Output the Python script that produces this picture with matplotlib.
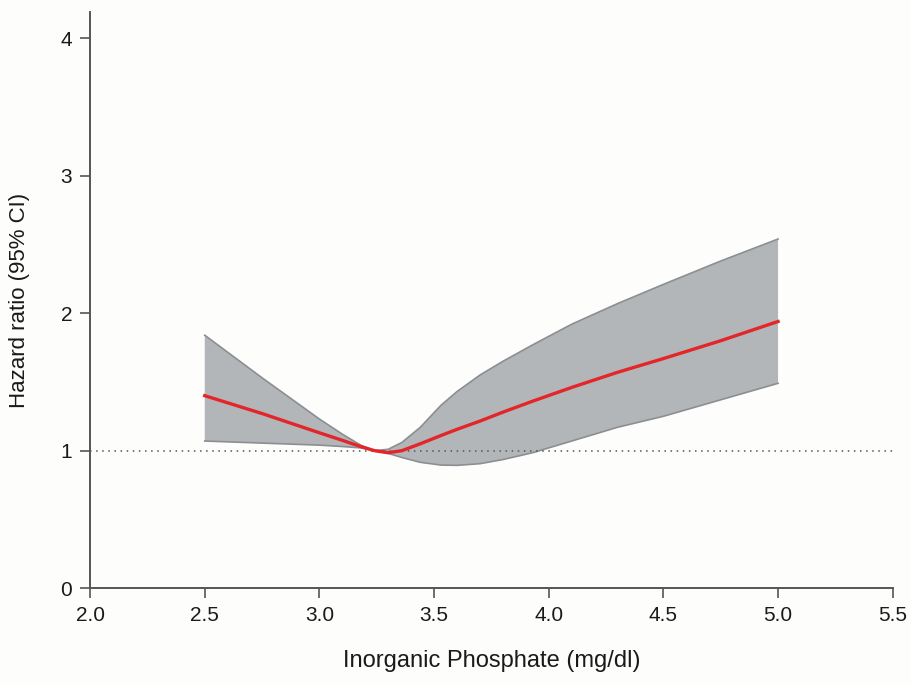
import matplotlib
matplotlib.use("Agg")
import matplotlib.pyplot as plt

# spline estimate
phosphate = [2.5, 2.75, 3.0, 3.1, 3.18, 3.24, 3.3, 3.36, 3.44, 3.53, 3.6, 3.7, 3.8,
             3.93, 4.1, 4.3, 4.5, 4.75, 5.0]
hr = [1.40, 1.27, 1.13, 1.075, 1.03, 1.0, 0.985, 1.0, 1.05, 1.11, 1.155, 1.215, 1.28,
      1.36, 1.46, 1.57, 1.67, 1.80, 1.94]
ci_upper = [1.84, 1.53, 1.23, 1.12, 1.04, 1.0, 1.01, 1.06, 1.17, 1.33, 1.43, 1.55, 1.65,
            1.77, 1.92, 2.07, 2.21, 2.38, 2.54]
ci_lower = [1.07, 1.055, 1.04, 1.03, 1.02, 1.0, 0.98, 0.95, 0.915, 0.895, 0.893, 0.905, 0.935,
            0.985, 1.07, 1.17, 1.25, 1.37, 1.49]

xticks = [2.0, 2.5, 3.0, 3.5, 4.0, 4.5, 5.0, 5.5]
yticks = [0, 1, 2, 3, 4]

plt.rcParams['font.family'] = ['Liberation Sans', 'DejaVu Sans']

fig = plt.figure(figsize=(9.1, 6.83), dpi=100, facecolor='#fdfdfb')
ax = fig.add_axes([0.099, 0.139, 0.882, 0.843], facecolor='#fdfdfb')

ax.fill_between(phosphate, ci_lower, ci_upper, facecolor='#b3b6b9',
                edgecolor='none', zorder=2)
ax.plot(phosphate, ci_upper, color='#8c8f92', lw=1.2, solid_joinstyle='round', zorder=2)
ax.plot(phosphate, ci_lower, color='#8c8f92', lw=1.2, solid_joinstyle='round', zorder=2)
ax.plot(phosphate, hr, color='#e2262a', linewidth=2.4, solid_joinstyle='round', zorder=4)
ax.axhline(1, color='#555555', linestyle=(0, (1, 3)), linewidth=1.1, zorder=3)

ax.set_xlim(2.0, 5.5)
ax.set_ylim(0, 4.19)
ax.set_xticks(xticks)
ax.set_xticklabels([f"{t:.1f}" for t in xticks])
ax.set_yticks(yticks)

for s in ['top', 'right']:
    ax.spines[s].set_visible(False)
for s in ['left', 'bottom']:
    ax.spines[s].set_color('#555555')
    ax.spines[s].set_linewidth(1.4)

ax.tick_params(axis='both', colors='#555555', width=1.2, length=7, labelsize=15,
               labelcolor='#1a1a1a', pad=6)

ax.set_xlabel("Inorganic Phosphate (mg/dl)", fontsize=17, color='#1a1a1a', labelpad=18)
ax.set_ylabel("Hazard ratio (95% CI)", fontsize=16, color='#1a1a1a', labelpad=22)

fig.savefig("out.png", dpi=100, facecolor=fig.get_facecolor())
